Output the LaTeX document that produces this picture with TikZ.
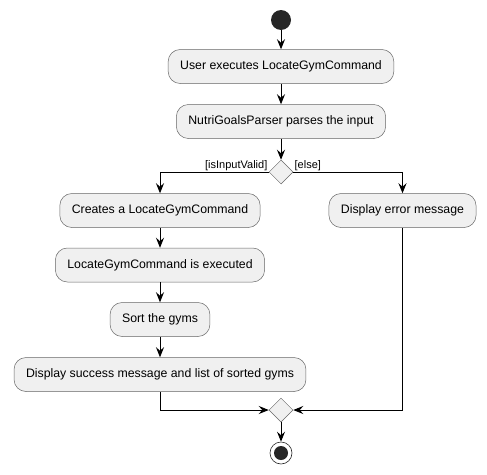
\documentclass[tikz,border=0pt]{standalone}
\usepackage{fontspec}
\setmainfont{Liberation Sans}
\usetikzlibrary{arrows.meta,shapes.geometric,positioning}
\begin{document}
\begin{tikzpicture}[->, >={Stealth[length=10pt,width=8pt,inset=3.5pt]}, x=1pt, y=-1pt, line width=0.8pt,
  main node/.style={rectangle, rounded corners=12pt, draw=black!60, line width=0.5pt, fill=black!6, minimum height=34pt, inner xsep=12pt},
  branch node/.style={diamond, draw=black!60, line width=0.5pt, fill=black!6, minimum width=24pt, minimum height=24pt, inner sep=0pt},
  guard/.style={font=\fontsize{11}{13}\selectfont, inner sep=1pt}]
        \tikzstyle{every node}=[font=\fontsize{12.3}{14}\selectfont]
        \useasboundingbox (0,0) rectangle (487,474);

          \node[circle, fill=black!85, minimum size=20pt, inner sep=0pt] (1) at (281,20) {};
          \node[main node] (2) [below of=1, node distance=46.5pt] {User executes LocateGymCommand};
          \node[main node] (3) [below of=2, node distance=55pt] {NutriGoalsParser parses the input};
          \node[branch node] (4) [below of=3, node distance=50.5pt] {};
          \node[main node] (5) at (160,210.5) {Creates a LocateGymCommand};
          \node[main node] (6) at (402.5,210.5) {Display error message};
          \node[main node] (7) [below of=5, node distance=54.5pt] {LocateGymCommand is executed};
          \node[main node] (8) [below of=7, node distance=54.5pt] {Sort the gyms};
          \node[main node] (9) [below of=8, node distance=55pt] {Display success message and list of sorted gyms};
          \node[branch node] (10) at (281,410) {};
          \node[circle, draw=black!85, fill=white, line width=0.6pt, minimum size=22pt, inner sep=0pt,
                path picture={\fill[black!85] (path picture bounding box.center) circle (7pt);}] (11) [below of=10, node distance=43pt] {};

          \path
            (1) edge (2)
            (2) edge (3)
            (3) edge (4)
            (5) edge (7)
            (7) edge (8)
            (8) edge (9)
            (10) edge (11);

          \draw (4.west) -| node[guard, pos=0, anchor=south east] {[isInputValid]} (5.north);
          \draw (4.east) -| node[guard, pos=0, anchor=south west] {[else]} (6.north);
          \draw (9.south) |- (10.west);
          \draw (6.south) |- (10.east);

        \end{tikzpicture}
\end{document}
